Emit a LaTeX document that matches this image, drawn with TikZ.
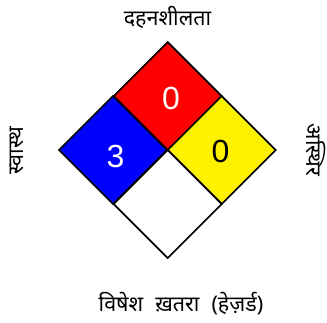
\documentclass[tikz,border=0pt]{standalone}
\usepackage{fontspec}
\setmainfont{Liberation Sans}
\newfontfamily\devfont[Script=Devanagari]{Noto Sans}
\begin{document}
\begin{tikzpicture}[x=1pt,y=-1pt,
  cell/.style={draw=black,line width=1.7pt,line join=miter},
  num/.style={font=\fontsize{32}{34}\selectfont,inner sep=0pt},
  lab/.style={font=\devfont\fontsize{21.5}{24}\selectfont,inner sep=0pt}]
\useasboundingbox (0,0) rectangle (327,322);
\def\h{54}
\coordinate (C) at (167.7,150);
% red top
\filldraw[cell,fill=red] (167.7,42) -- ++(\h,\h) -- ++(-\h,\h) -- ++(-\h,-\h) -- cycle;
% blue left
\filldraw[cell,fill=blue] (59,150) -- ++(\h,-\h) -- ++(\h,\h) -- ++(-\h,\h) -- cycle;
% yellow right
\filldraw[cell,fill=yellow] (167.7,150) -- ++(\h,-\h) -- ++(\h,\h) -- ++(-\h,\h) -- cycle;
% white bottom
\filldraw[cell,fill=white] (167.7,150) -- ++(\h,\h) -- ++(-\h,\h) -- ++(-\h,-\h) -- cycle;
\node[num,text=white] (red) at (171,98.5) {0};
\node[num,text=white] (blue) at (115.5,156) {3};
\node[num,text=black] (yellow) at (220.5,151) {0};
\node[lab] (top) at (167.5,17) {दहनशीलता};
\node[lab,rotate=90] (left) at (17,151) {स्वास्थ};
\node[lab,rotate=-90] (right) at (316,150) {अस्थिर};
\node[lab] (bottom) at (181,304) {विषेश\hspace{0.3em} ख़तरा\hspace{0.3em} (हेज़र्ड)};
\end{tikzpicture}
\end{document}
